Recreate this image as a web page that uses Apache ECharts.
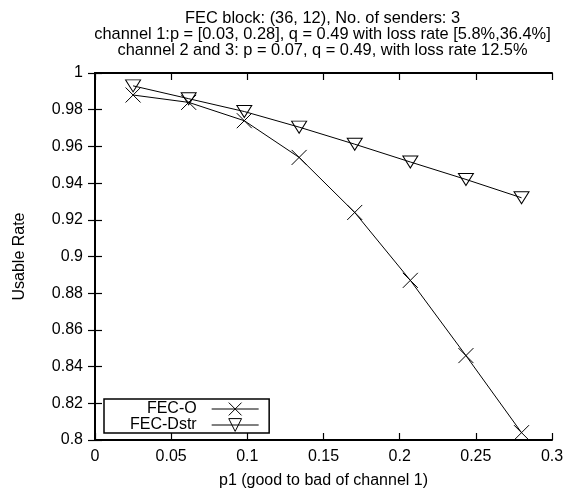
<!DOCTYPE html>
<html>
<head>
<meta charset="utf-8">
<script src="https://cdn.jsdelivr.net/npm/echarts@6/dist/echarts.min.js"></script>
<style>html,body{margin:0;padding:0;background:#fff;}#c{width:565px;height:493px;}</style>
</head>
<body>
<div id="c"></div>
<script>
var titleLines = [
  'FEC block: (36, 12), No. of senders: 3',
  'channel 1:p = [0.03, 0.28], q = 0.49 with loss rate [5.8%,36.4%]',
  'channel 2 and 3: p = 0.07, q = 0.49, with loss rate 12.5%'
];
var p1 = [0.025, 0.0615, 0.098, 0.134, 0.1705, 0.207, 0.2435, 0.28];
var fecO = [0.988, 0.984, 0.974, 0.954, 0.924, 0.887, 0.846, 0.804];
var fecDstr = [0.993, 0.986, 0.979, 0.9705, 0.9612, 0.9515, 0.942, 0.932];
var seriesNames = ['FEC-O', 'FEC-Dstr'];
var xName = 'p1 (good to bad of channel 1)';
var yName = 'Usable Rate';

function pairs(xs, ys) { return xs.map(function (x, i) { return [x, ys[i]]; }); }

var FONT = 'Liberation Sans';
var FS = 16;
var crossPath = 'path://M0,0L10,10M10,0L0,10';
var triPath = 'path://M0,0L12,0L6,10Z';

var chart = echarts.init(document.getElementById('c'), null, {renderer: 'canvas'});
var axisCommon = {
  axisLine: {show: true, lineStyle: {color: '#000', width: 2}},
  axisTick: {show: true, inside: true, length: 7, lineStyle: {color: '#000', width: 1.2}},
  splitLine: {show: false}
};
chart.setOption({
  animation: false,
  backgroundColor: '#fff',
  title: {
    text: titleLines.join('\n'),
    left: 322.5, top: 10, textAlign: 'center', padding: 0,
    textStyle: {fontFamily: FONT, fontSize: 16.4, fontWeight: 'normal', color: '#000', lineHeight: 16}
  },
  grid: {left: 95, right: 13, top: 73, bottom: 53, containLabel: false, outerBoundsMode: 'none'},
  legend: {
    orient: 'vertical', left: 104, top: 399, align: 'right',
    borderColor: '#000', borderWidth: 1.5, borderRadius: 0,
    padding: [2, 10, 0, 26], itemGap: 0, itemWidth: 47, itemHeight: 16,
    textStyle: {fontFamily: FONT, fontSize: FS, color: '#000', padding: [0, 10, 0, 0], lineHeight: 16},
    itemStyle: {borderWidth: 1, color: 'transparent', borderColor: '#000'},
    lineStyle: {width: 1, color: '#000'},
    data: seriesNames
  },
  xAxis: [
    Object.assign({type: 'value', min: 0, max: 0.3, interval: 0.05, position: 'bottom',
      name: xName, nameLocation: 'middle', nameGap: 33,
      nameTextStyle: {fontFamily: FONT, fontSize: FS, color: '#000'},
      axisLabel: {fontFamily: FONT, fontSize: FS, color: '#000', margin: 9}}, axisCommon),
    Object.assign({type: 'value', min: 0, max: 0.3, interval: 0.05, position: 'top',
      axisLabel: {show: false}}, axisCommon)
  ],
  yAxis: [
    Object.assign({type: 'value', min: 0.8, max: 1, interval: 0.02, position: 'left',
      name: yName, nameLocation: 'middle', nameGap: 67,
      nameTextStyle: {fontFamily: FONT, fontSize: FS, color: '#000'},
      axisLabel: {fontFamily: FONT, fontSize: FS, color: '#000', margin: 12}}, axisCommon),
    Object.assign({type: 'value', min: 0.8, max: 1, interval: 0.02, position: 'right',
      axisLabel: {show: false}}, axisCommon)
  ],
  series: [
    {
      name: seriesNames[0], type: 'line', data: pairs(p1, fecO),
      symbol: crossPath, symbolSize: 15, showAllSymbol: true,
      lineStyle: {color: '#000', width: 1},
      itemStyle: {color: 'transparent', borderColor: '#000', borderWidth: 1}
    },
    {
      name: seriesNames[1], type: 'line', data: pairs(p1, fecDstr),
      symbol: triPath, symbolSize: [15, 12], showAllSymbol: true,
      lineStyle: {color: '#000', width: 1},
      itemStyle: {color: 'transparent', borderColor: '#000', borderWidth: 1}
    }
  ]
});
</script>
</body>
</html>
